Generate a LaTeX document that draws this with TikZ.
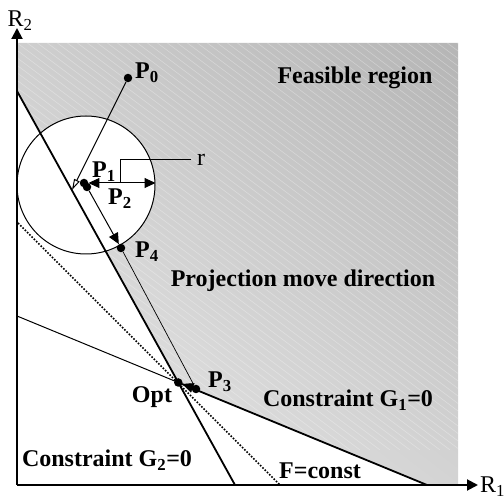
\documentclass[tikz,border=0pt]{standalone}
\usepackage{fontspec}
\setmainfont{Liberation Serif}
\usetikzlibrary{arrows.meta,shadings}
\tikzset{
  pt/.style={circle, fill=black, inner sep=0pt, minimum size=8.5pt},
  lbl/.style={font=\fontsize{24}{28}\selectfont\bfseries, inner sep=0pt},
  axlbl/.style={font=\fontsize{24}{28}\selectfont, inner sep=0pt},
  bound/.style={line width=1.8pt},
  hatch/.style={white, opacity=0.35, line width=0.5pt}
}

\begin{document}
\begin{tikzpicture}[x=1pt, y=-1pt, >={Triangle[length=11pt,width=10pt]}]
  \useasboundingbox (0,0) rectangle (504,502);
  % corner points of the plot
  \coordinate (O) at (17,485);
  \coordinate (TL) at (17,43);
  \coordinate (TR) at (458,43);
  \coordinate (BR) at (458,485);
  \coordinate (yend) at (17,28);
  \coordinate (xend) at (478,485);
  \coordinate (G2a) at (17,91);
  \coordinate (G2b) at (235,485);
  \coordinate (G1a) at (17,316);
  \coordinate (G1b) at (427,485);
  \coordinate (Fa) at (18,223);
  \coordinate (Fb) at (280,485);
  \coordinate (optpt) at (intersection of G2a--G2b and G1a--G1b);

  % feasible region
  \shade[upper left=gray!38, upper right=gray!58, lower left=gray!16, lower right=gray!34]
    (TL) -- (TR) -- (BR) -- (G1b) -- (optpt) -- (G2a) -- cycle;
  \begin{scope}
    \clip (TL) -- (TR) -- (BR) -- (G1b) -- (optpt) -- (G2a) -- cycle;
    \foreach \k in {-50,...,50}
      \draw[hatch] (\k*10,0) -- ++(600,450);
  \end{scope}
  \node[lbl, anchor=base] (feas) at (355,84) {Feasible region};
  \node[lbl, anchor=base] (proj) at (303,287) {Projection move direction};

  % trust circle
  \node[circle, draw, fill=white, line width=1pt, minimum size=138pt, inner sep=0pt] (circ) at (86,185) {};

  % constraints and objective
  \draw[bound] (G2a) -- (G2b);
  \draw[line width=1pt] (G1a) -- (optpt);
  \draw[bound] (optpt) -- (G1b);
  \draw[line width=1.7pt, dash pattern=on 1.6pt off 1.6pt] (Fa) -- (Fb);
  \node[lbl, anchor=base] (g1) at (348,407) {Constraint G\textsubscript{1}=0};
  \node[lbl, anchor=base] (g2) at (107,467) {Constraint G\textsubscript{2}=0};
  \node[lbl, anchor=base] (fc) at (320,479) {F=const};

  % axes
  \draw[line width=2pt, -{Triangle[length=11pt,width=11pt]}] (O) -- (yend);
  \draw[line width=2pt, -{Triangle[length=11pt,width=11pt]}] (O) -- (xend);
  \node[axlbl, anchor=base] (r2) at (20,27) {R\textsubscript{2}};
  \node[axlbl, anchor=base west] (r1) at (480,493) {R\textsubscript{1}};

  % iteration points
  \node[pt] (P0) at (128,78) {};
  \node[pt] (P1) at (84,183) {};
  \node[pt] (P2) at (87,187) {};
  \node[pt] (P4) at (121,248) {};
  \node[pt] (P3) at (196,389) {};
  \node[pt] (opt) at (optpt) {};
  \coordinate (P0end) at (72,190);
  \coordinate (rk) at (120,160);

  \draw[line width=1pt, -{Triangle[open,length=11pt,width=6pt]}] (P0) -- (P0end);
  \draw[line width=1pt, ->] (P2) -- (P4);
  \draw[line width=0.7pt] (P4) -- (P3);
  \draw[->] (P3) -- (opt);
  \draw[line width=1pt, <->] (P1) -- (P1 -| circ.east);

  % radius mark
  \node[axlbl, anchor=base west] (r) at (197,166) {r};
  \draw[line width=1pt, shorten <=6pt] (r.west |- rk) -- (rk) -- (rk |- P1);

  % point labels
  \node[lbl, anchor=base west] (lP0) at (135,79) {P\textsubscript{0}};
  \node[lbl, anchor=base west] (lP1) at (92,178) {P\textsubscript{1}};
  \node[lbl, anchor=base west] (lP2) at (108,205) {P\textsubscript{2}};
  \node[lbl, anchor=base west] (lP4) at (135,258) {P\textsubscript{4}};
  \node[lbl, anchor=base west] (lP3) at (208,388) {P\textsubscript{3}};
  \node[lbl, anchor=base] (lopt) at (152,403) {Opt};
\end{tikzpicture}
\end{document}
